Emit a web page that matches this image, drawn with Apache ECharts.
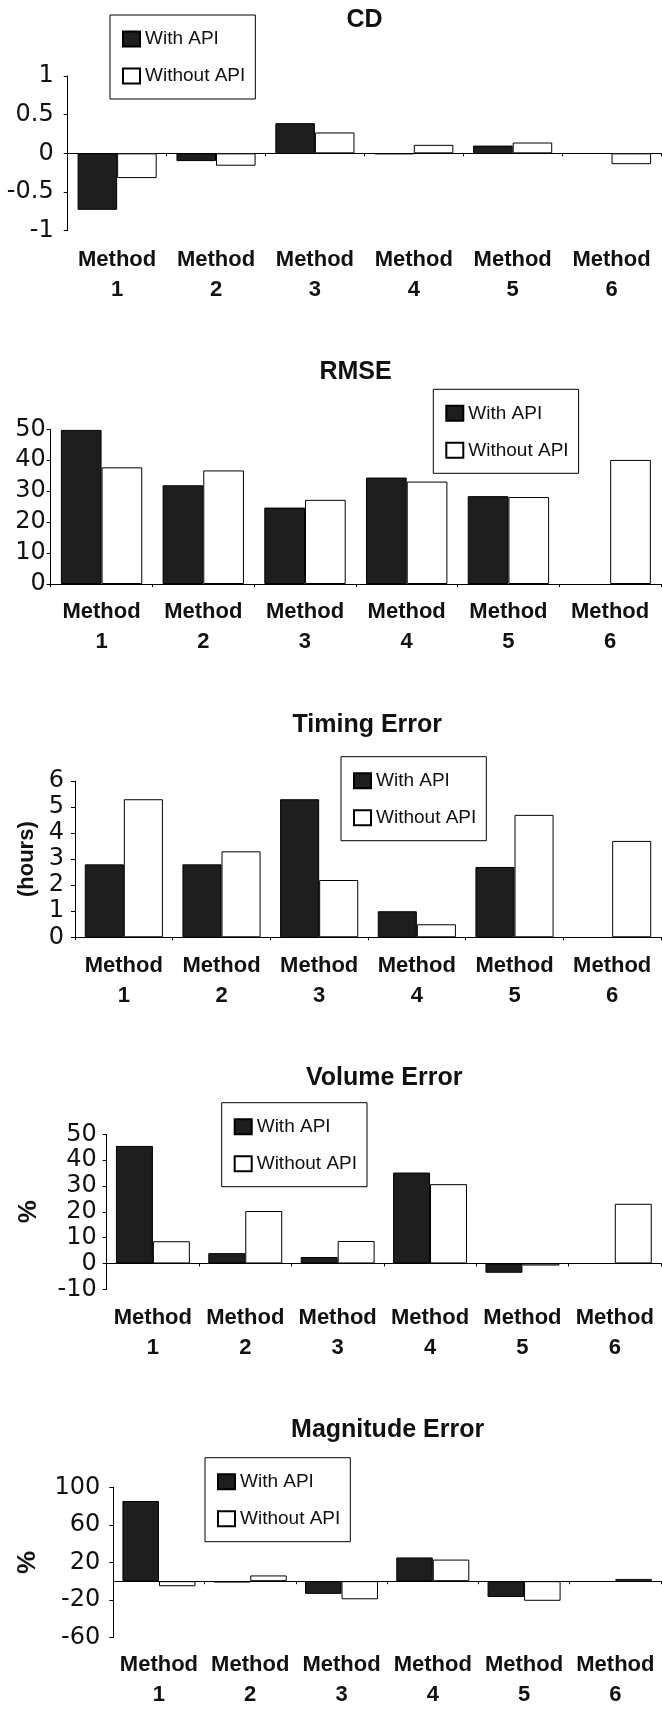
<!DOCTYPE html>
<html>
<head>
<meta charset="utf-8">
<script src="https://cdn.jsdelivr.net/npm/echarts@6/dist/echarts.min.js"></script>
<style>
html,body{margin:0;padding:0;background:#fff;}
#chart{width:662px;height:1710px;}
</style>
</head>
<body>
<div id="chart"></div>
<script>
// ---------- DATA ----------
const categories = ['Method\n1', 'Method\n2', 'Method\n3', 'Method\n4', 'Method\n5', 'Method\n6'];
const seriesNames = ['With API', 'Without API'];

const cdTitle = 'CD';
const cdWith = [-0.73, -0.10, 0.39, -0.01, 0.10, null];
const cdWithout = [-0.32, -0.16, 0.27, 0.11, 0.14, -0.14];
const cdTicks = [-1, -0.5, 0, 0.5, 1];

const rmseTitle = 'RMSE';
const rmseWith = [49.8, 31.9, 24.7, 34.4, 28.4, null];
const rmseWithout = [37.7, 36.7, 27.2, 33.1, 28.1, 40.1];
const rmseTicks = [0, 10, 20, 30, 40, 50];

const timingTitle = 'Timing Error';
const timingAxisName = '(hours)';
const timingWith = [2.8, 2.8, 5.3, 1.0, 2.7, null];
const timingWithout = [5.3, 3.3, 2.2, 0.5, 4.7, 3.7];
const timingTicks = [0, 1, 2, 3, 4, 5, 6];

const volumeTitle = 'Volume Error';
const volumeAxisName = '%';
const volumeWith = [45.5, 4.0, 2.5, 35.2, -3.6, null];
const volumeWithout = [8.6, 20.3, 8.7, 30.7, -0.8, 23.1];
const volumeTicks = [-10, 0, 10, 20, 30, 40, 50];

const magTitle = 'Magnitude Error';
const magAxisName = '%';
const magWith = [85.4, -1.4, -13.5, 25.3, -16.9, null];
const magWithout = [-5.4, 6.1, -19.3, 23.0, -20.9, 2.4];
const magTicks = [-60, -20, 20, 60, 100];

// ---------- LAYOUT ----------
const panels = [
  {title: cdTitle, withD: cdWith, withoutD: cdWithout, ticks: cdTicks, name: '',
   tx: 364.5, ty: 20, grid: {left: 67.7, top: 76, height: 154.7},
   legend: {left: 110, top: 15}, xMargin: 14, yMargin: 14, nameGap: 0, nameSize: 22},
  {title: rmseTitle, withD: rmseWith, withoutD: rmseWithout, ticks: rmseTicks, name: '',
   tx: 355.5, ty: 371.7, grid: {left: 50.7, top: 429.3, height: 154.7},
   legend: {left: 433.3, top: 389.3}, xMargin: 13, yMargin: 5, nameGap: 0, nameSize: 22},
  {title: timingTitle, withD: timingWith, withoutD: timingWithout, ticks: timingTicks, name: timingAxisName,
   tx: 367.3, ty: 725, grid: {left: 75, top: 781, height: 156.3},
   legend: {left: 341, top: 756.7}, xMargin: 14, yMargin: 11, nameGap: 37, nameSize: 22},
  {title: volumeTitle, withD: volumeWith, withoutD: volumeWithout, ticks: volumeTicks, name: volumeAxisName,
   tx: 384.2, ty: 1078, grid: {left: 106.7, top: 1134.3, height: 155},
   legend: {left: 221.7, top: 1102.7}, xMargin: 14, yMargin: 10, nameGap: 65, nameSize: 26},
  {title: magTitle, withD: magWith, withoutD: magWithout, ticks: magTicks, name: magAxisName,
   tx: 387.6, ty: 1430, grid: {left: 113.3, top: 1487.3, height: 158.4},
   legend: {left: 205, top: 1457.7}, xMargin: 12.5, yMargin: 13, nameGap: 72, nameSize: 26}
];

const SANS = '"Liberation Sans", Arial, sans-serif';
const DIGITS = '"DejaVu Sans", sans-serif';
const INK = '#111';

const option = {
  animation: false,
  backgroundColor: '#fff',
  grid: [], xAxis: [], yAxis: [], series: [], legend: [], graphic: []
};

panels.forEach((p, i) => {
  option.grid.push({left: p.grid.left, top: p.grid.top, height: p.grid.height, right: 1, containLabel: false});
  // label axis at the bottom of the plot
  option.xAxis.push({
    gridIndex: i, type: 'category', data: categories, position: 'bottom',
    axisLine: {show: false, onZero: false}, axisTick: {show: false},
    axisLabel: {interval: 0, margin: p.xMargin, fontFamily: SANS, fontWeight: 'bold', fontSize: 22, lineHeight: 30, color: INK},
    splitLine: {show: false}
  });
  // zero line axis
  option.xAxis.push({
    gridIndex: i, type: 'category', data: categories, position: 'bottom',
    axisLine: {show: true, onZero: true, lineStyle: {color: '#000', width: 1}},
    axisTick: {show: true, length: 3, lineStyle: {color: '#000', width: 1}},
    axisLabel: {show: false}, splitLine: {show: false}
  });
  option.yAxis.push({
    gridIndex: i, type: 'value', min: p.ticks[0], max: p.ticks[p.ticks.length - 1],
    axisLine: {show: true, lineStyle: {color: '#000', width: 1}},
    axisTick: {show: true, length: 4, customValues: p.ticks, lineStyle: {color: '#000'}},
    axisLabel: {customValues: p.ticks, margin: p.yMargin, fontFamily: DIGITS, fontSize: 24, color: INK},
    splitLine: {show: false},
    name: p.name, nameLocation: 'middle', nameGap: p.nameGap, nameRotate: 90,
    nameTextStyle: {fontFamily: SANS, fontWeight: 'bold', fontSize: p.nameSize, color: INK}
  });
  option.series.push({
    name: seriesNames[0], type: 'bar', xAxisIndex: 2 * i, yAxisIndex: i, data: p.withD,
    barGap: '0%', barCategoryGap: '20%',
    itemStyle: {color: '#1e1e1e', borderColor: '#000', borderWidth: 1}
  });
  option.series.push({
    name: seriesNames[1], type: 'bar', xAxisIndex: 2 * i, yAxisIndex: i, data: p.withoutD,
    barGap: '0%', barCategoryGap: '20%',
    itemStyle: {color: '#fff', borderColor: '#000', borderWidth: 1}
  });
  option.legend.push({
    left: p.legend.left, top: p.legend.top, orient: 'vertical', data: seriesNames,
    icon: 'rect', itemWidth: 17, itemHeight: 15, itemGap: 17,
    padding: [14, 10, 13, 12], borderColor: '#000', borderWidth: 1, backgroundColor: '#fff',
    selectedMode: false,
    textStyle: {fontFamily: SANS, fontSize: 19, lineHeight: 20, color: INK}
  });
  option.graphic.push({
    type: 'text', x: p.tx, y: p.ty, silent: true,
    style: {text: p.title, fill: INK, font: 'bold 25px ' + SANS,
            align: 'center', verticalAlign: 'middle', textAlign: 'center', textVerticalAlign: 'middle'}
  });
});

const chart = echarts.init(document.getElementById('chart'), null, {renderer: 'canvas'});
chart.setOption(option);
</script>
</body>
</html>
